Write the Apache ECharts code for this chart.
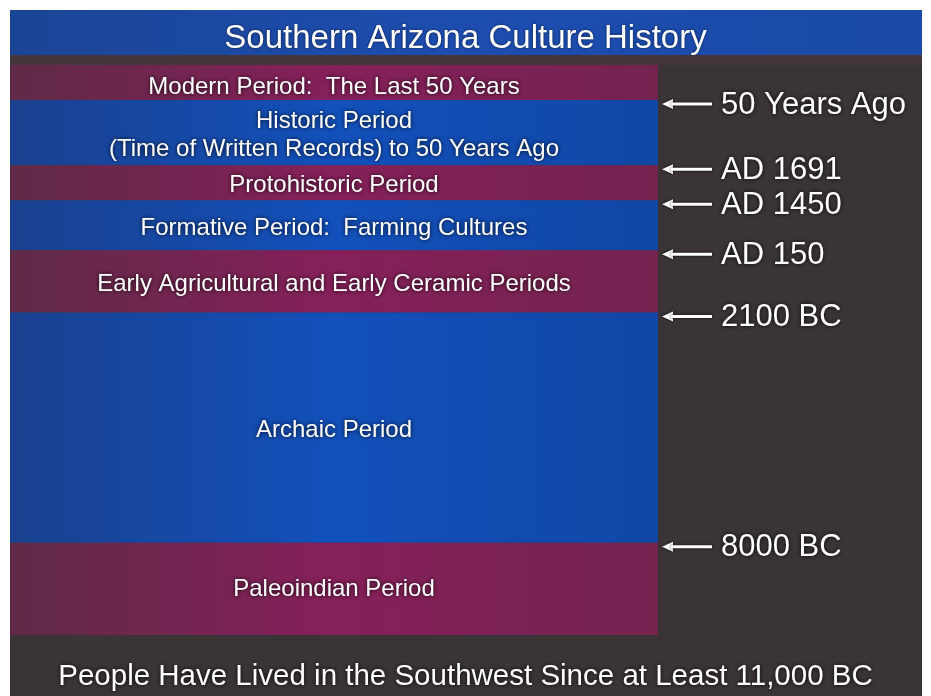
<!DOCTYPE html>
<html>
<head>
<meta charset="utf-8">
<script src="https://cdn.jsdelivr.net/npm/echarts@6/dist/echarts.min.js"></script>
<style>
  html, body { margin: 0; padding: 0; background: #ffffff; }
  #chart { width: 931px; height: 696px; }
</style>
</head>
<body>
<div id="chart"></div>
<script>
// ---- data ----
const titleText = 'Southern Arizona Culture History';
const footnoteText = 'People Have Lived in the Southwest Since at Least 11,000 BC';
const periods = [
  'Modern Period:  The Last 50 Years',
  'Historic Period\n(Time of Written Records) to 50 Years Ago',
  'Protohistoric Period',
  'Formative Period:  Farming Cultures',
  'Early Agricultural and Early Ceramic Periods',
  'Archaic Period',
  'Paleoindian Period'
];
// visual height of each period band (display units, as drawn)
const bandHeights = [35, 65, 35, 50, 62, 230, 92];
// labels of the boundaries between consecutive bands
const boundaryLabels = ['50 Years Ago', 'AD 1691', 'AD 1450', 'AD 150', '2100 BC', '8000 BC'];

// ---- build options ----
const total = bandHeights.reduce((a, b) => a + b, 0);
const cumulative = [];
bandHeights.reduce((acc, h) => { acc += h; cumulative.push(acc); return acc; }, 0);
const boundaryData = boundaryLabels.map((lab, i) => [0, cumulative[i], lab]);

function hGrad(stops) {
  return new echarts.graphic.LinearGradient(0, 0, 1, 0, stops.map((c, i) => ({ offset: i / (stops.length - 1), color: c })));
}
const blueFill = hGrad(['#1a418f', '#1250bb', '#1147a6']);
const magentaFill = hGrad(['#5f2a47', '#86205a', '#74234f']);

const labelStyle = {
  show: true,
  position: 'inside',
  color: '#ffffff',
  fontFamily: 'Liberation Sans, Arial, sans-serif',
  fontSize: 24,
  lineHeight: 28,
  textShadowColor: 'rgba(0,0,0,0.9)',
  textShadowBlur: 4
};

const bandSeries = periods.map((name, i) => ({
  name: name,
  type: 'bar',
  stack: 'bands',
  xAxisIndex: 0,
  yAxisIndex: 0,
  barWidth: '100%',
  silent: true,
  data: [bandHeights[i]],
  itemStyle: { color: i % 2 === 0 ? magentaFill : blueFill },
  label: Object.assign({}, labelStyle, { formatter: name, offset: [0, i === 0 ? 5 : (i === periods.length - 1 ? 0 : 3)] }),
  z: 2
}));

const boundarySeries = {
  type: 'custom',
  xAxisIndex: 1,
  yAxisIndex: 1,
  silent: true,
  data: boundaryData,
  renderItem: function (params, api) {
    const p = api.coord([api.value(0), api.value(1)]);
    const x0 = p[0] + 4;
    const y = p[1] + 4;
    return {
      type: 'group',
      children: [
        { type: 'polygon', shape: { points: [[x0, y], [x0 + 11, y - 5], [x0 + 11, y + 5]] },
          style: { fill: '#ffffff', shadowColor: 'rgba(0,0,0,0.9)', shadowBlur: 3 } },
        { type: 'rect', shape: { x: x0 + 9, y: y - 1.5, width: 41, height: 3 },
          style: { fill: '#ffffff', shadowColor: 'rgba(0,0,0,0.9)', shadowBlur: 3 } },
        { type: 'text', x: x0 + 59, y: y + 1,
          style: { text: api.value(2), fill: '#ffffff', fontSize: 31,
                   fontFamily: 'Liberation Sans, Arial, sans-serif',
                   verticalAlign: 'middle', align: 'left',
                   textShadowColor: 'rgba(0,0,0,0.95)', textShadowBlur: 4 } }
      ]
    };
  },
  z: 3
};

const option = {
  backgroundColor: '#ffffff',
  animation: false,
  graphic: [
    { type: 'rect', left: 10, top: 10, shape: { width: 912, height: 686 },
      style: { fill: '#3b3436' }, z: -10 },
    { type: 'rect', left: 10, top: 10, shape: { width: 912, height: 45 },
      style: { fill: new echarts.graphic.LinearGradient(0, 0, 1, 0, [
        { offset: 0, color: '#1a4596' }, { offset: 0.5, color: '#1d4db0' }, { offset: 1, color: '#1a4aa6' }]) }, z: -9 },
    { type: 'rect', left: 10, top: 55, shape: { width: 912, height: 10 },
      style: { fill: '#45353c' }, z: -9 }
  ],
  title: [
    { text: titleText, left: 'center', top: 17,
      textStyle: { color: '#ffffff', fontSize: 33, fontWeight: 'normal',
                   fontFamily: 'Liberation Sans, Arial, sans-serif',
                   textShadowColor: 'rgba(0,0,0,0.6)', textShadowBlur: 3 } },
    { text: footnoteText, left: 'center', top: 657,
      textStyle: { color: '#ffffff', fontSize: 29.5, fontWeight: 'normal',
                   fontFamily: 'Liberation Sans, Arial, sans-serif',
                   textShadowColor: 'rgba(0,0,0,0.95)', textShadowBlur: 4 } }
  ],
  grid: [
    { left: 10, right: 273, top: 65, bottom: 61, containLabel: false },
    { left: 658, right: 9, top: 65, bottom: 61, containLabel: false }
  ],
  xAxis: [
    { type: 'category', gridIndex: 0, data: ['bands'], show: false },
    { type: 'value', gridIndex: 1, min: 0, max: 1, show: false }
  ],
  yAxis: [
    { type: 'value', gridIndex: 0, inverse: true, min: 0, max: total, show: false },
    { type: 'value', gridIndex: 1, inverse: true, min: 0, max: total, show: false }
  ],
  series: bandSeries.concat([boundarySeries])
};

const chart = echarts.init(document.getElementById('chart'), null, { renderer: 'canvas' });
chart.setOption(option);
</script>
</body>
</html>
